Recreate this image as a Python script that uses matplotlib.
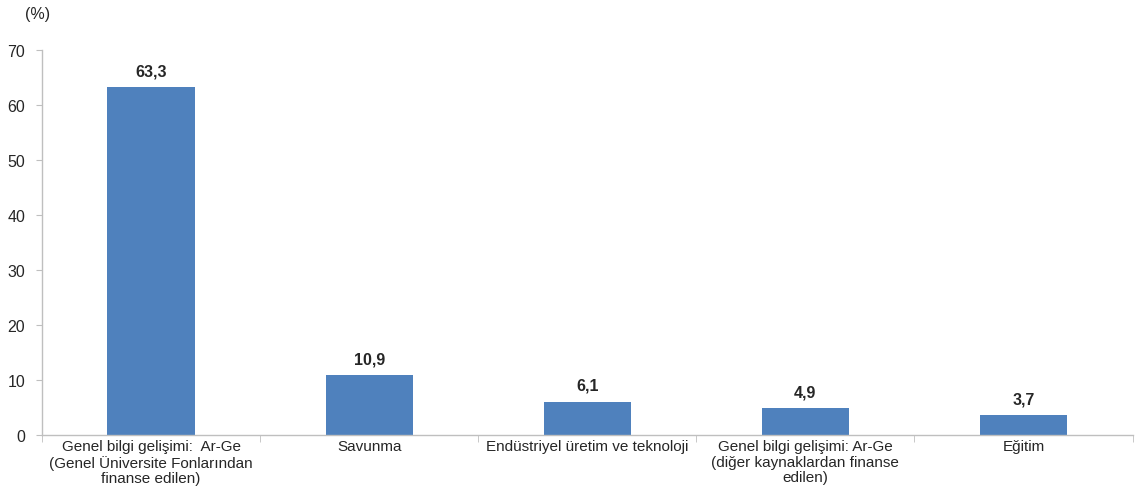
import matplotlib
matplotlib.use("Agg")
import matplotlib.pyplot as plt
import numpy as np

categories = [
    "Genel bilgi gelişimi:  Ar-Ge\n(Genel Üniversite Fonlarından\nfinanse edilen)",
    "Savunma",
    "Endüstriyel üretim ve teknoloji",
    "Genel bilgi gelişimi: Ar-Ge\n(diğer kaynaklardan finanse\nedilen)",
    "Eğitim",
]
values = [63.3, 10.9, 6.1, 4.9, 3.7]
value_labels = ["63,3", "10,9", "6,1", "4,9", "3,7"]
yticks = [0, 10, 20, 30, 40, 50, 60, 70]

plt.rcParams['font.family'] = ['Liberation Sans', 'DejaVu Sans']

fig = plt.figure(figsize=(11.36, 5.02), dpi=100)
ax = fig.add_axes([0.037, 0.131, 0.96, 0.767])

x = np.arange(len(categories))
ax.bar(x, values, width=0.4, color="#4F81BD", zorder=2)
for xi, v, lab in zip(x, values, value_labels):
    ax.text(xi, v + 1.6, lab, ha="center", va="bottom", fontsize=11.5,
            fontweight="bold", color="#262626")

ax.set_xlim(-0.5, len(categories) - 0.5)
ax.set_ylim(0, 70)
ax.set_yticks(yticks)
ax.set_yticklabels([str(t) for t in yticks], fontsize=11.5, color="#262626")
ax.set_xticks(x)
ax.set_xticklabels(categories, fontsize=11, color="#262626", linespacing=1.1)
ax.tick_params(axis="x", length=0, pad=3)
ax.set_xticks(np.arange(len(categories) + 1) - 0.5, minor=True)
ax.tick_params(axis="x", which="minor", length=5, color="#BFBFBF", direction="out")
ax.tick_params(axis="y", length=4, color="#BFBFBF", direction="out", pad=8)

for s in ["top", "right"]:
    ax.spines[s].set_visible(False)
for s in ["left", "bottom"]:
    ax.spines[s].set_color("#BFBFBF")
    ax.spines[s].set_linewidth(1)

fig.text(25 / 1136, 1 - 14 / 502, "(%)", fontsize=11.5, color="#262626",
         ha="left", va="center")

fig.savefig("out.png", dpi=100)
